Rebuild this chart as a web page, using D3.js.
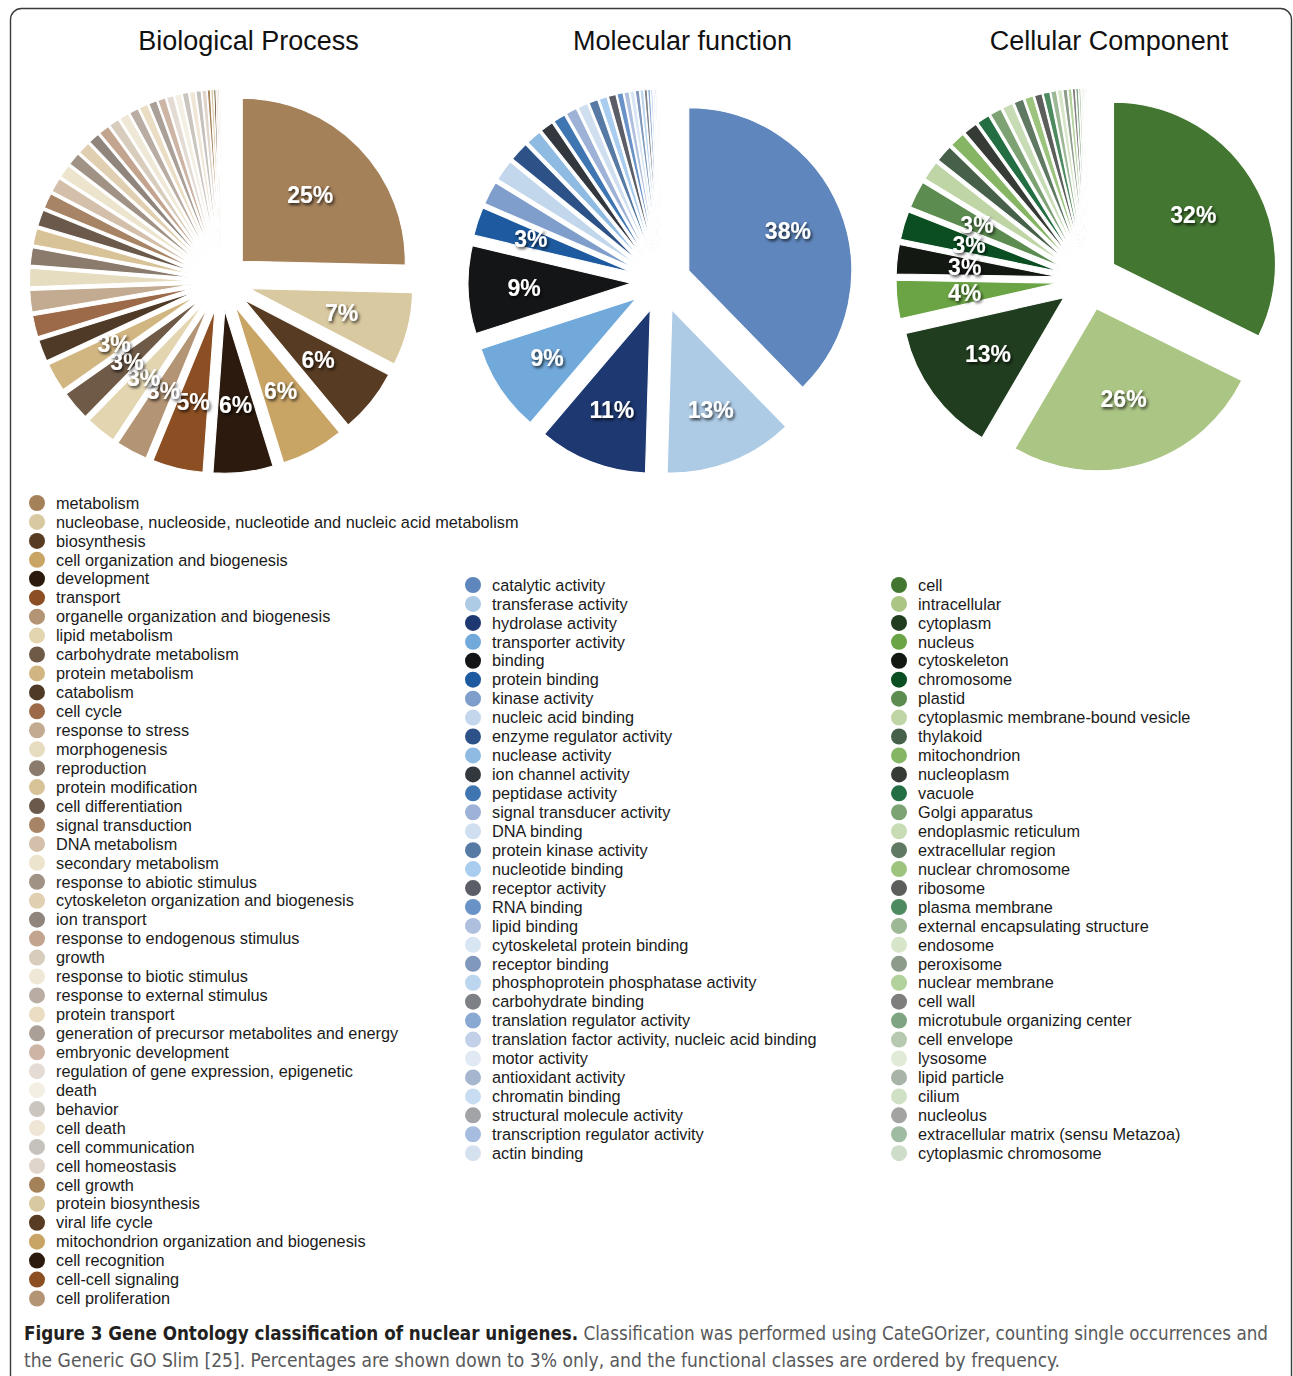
<!DOCTYPE html>
<html><head><meta charset="utf-8">
<script src="https://cdn.jsdelivr.net/npm/d3@7"></script>
<style>body{margin:0;background:#fff}svg{display:block}</style>
</head><body>
<script>
// ---------- DATA ----------
const chartTitles = ["Biological Process", "Molecular function", "Cellular Component"];

const bpCategories = ["metabolism","nucleobase, nucleoside, nucleotide and nucleic acid metabolism","biosynthesis","cell organization and biogenesis","development","transport","organelle organization and biogenesis","lipid metabolism","carbohydrate metabolism","protein metabolism","catabolism","cell cycle","response to stress","morphogenesis","reproduction","protein modification","cell differentiation","signal transduction","DNA metabolism","secondary metabolism","response to abiotic stimulus","cytoskeleton organization and biogenesis","ion transport","response to endogenous stimulus","growth","response to biotic stimulus","response to external stimulus","protein transport","generation of precursor metabolites and energy","embryonic development","regulation of gene expression, epigenetic","death","behavior","cell death","cell communication","cell homeostasis","cell growth","protein biosynthesis","viral life cycle","mitochondrion organization and biogenesis","cell recognition","cell-cell signaling","cell proliferation"];
const bpValues = [25.2,7.2,6.3,6.2,5.9,5.0,3.1,3.0,2.9,2.8,2.1,2.1,2.1,1.8,1.7,1.6,1.6,1.5,1.4,1.3,1.25,1.2,1.1,1.05,1.0,0.95,0.9,0.85,0.8,0.75,0.7,0.65,0.6,0.55,0.5,0.45,0.3,0.25,0.2,0.15,0.12,0.1,0.08];
const bpPalette = ["#a5815a","#d9c9a0","#573b22","#c8a465","#2b1a0d","#8b4f23","#b39474","#e2d5b0","#6f5a48","#d2b682","#4e3a27","#9c6a48","#c2ab90","#e6dcc0","#8a7b6d","#d8c297","#6b5a4b","#a88466","#d3bfaa","#ece4cc","#a09385","#e0cfb0","#8f857d","#c2a48f","#d8ccbc","#efe8d6","#b8aca3","#eaddc4","#aaa097","#cdb5a6","#e3dbd4","#f3efe3","#cbc5bf","#efe6d6","#c5c1bc","#e0d5cb"];

const mfCategories = ["catalytic activity","transferase activity","hydrolase activity","transporter activity","binding","protein binding","kinase activity","nucleic acid binding","enzyme regulator activity","nuclease activity","ion channel activity","peptidase activity","signal transducer activity","DNA binding","protein kinase activity","nucleotide binding","receptor activity","RNA binding","lipid binding","cytoskeletal protein binding","receptor binding","phosphoprotein phosphatase activity","carbohydrate binding","translation regulator activity","translation factor activity, nucleic acid binding","motor activity","antioxidant activity","chromatin binding","structural molecule activity","transcription regulator activity","actin binding"];
const mfValues = [37.8,12.8,10.8,8.8,8.7,2.8,2.3,2.1,1.9,1.5,1.3,1.2,1.1,1.0,0.9,0.8,0.75,0.6,0.5,0.45,0.4,0.35,0.3,0.25,0.2,0.17,0.14,0.12,0.1,0.08,0.06];
const mfPalette = ["#5f86bd","#aecbe6","#1e3871","#72a9db","#141517","#1d5aa0","#7f9ecb","#c3d7ec","#2c5288","#8fbbe3","#33383f","#3f76b2","#9db2d6","#cfdff0","#577aa5","#a9cdee","#5b5e66","#6992c7","#afc0de","#d8e6f3","#7f98bb","#bcd6ef","#7d8085","#89a9d3","#c3d1e8","#e1eaf4","#a7b6cf","#c9ddf2","#a2a3a7","#a6bde0","#d6e1ef"];

const ccCategories = ["cell","intracellular","cytoplasm","nucleus","cytoskeleton","chromosome","plastid","cytoplasmic membrane-bound vesicle","thylakoid","mitochondrion","nucleoplasm","vacuole","Golgi apparatus","endoplasmic reticulum","extracellular region","nuclear chromosome","ribosome","plasma membrane","external encapsulating structure","endosome","peroxisome","nuclear membrane","cell wall","microtubule organizing center","cell envelope","lysosome","lipid particle","cilium","nucleolus","extracellular matrix (sensu Metazoa)","cytoplasmic chromosome"];
const ccValues = [32.2,26.0,13.0,3.8,2.9,2.8,2.7,1.9,1.7,1.5,1.35,1.25,1.15,1.05,0.95,0.85,0.75,0.65,0.55,0.48,0.42,0.36,0.3,0.25,0.2,0.16,0.13,0.1,0.08,0.06,0.05];
const ccPalette = ["#437731","#abc584","#213d1f","#6aa444","#141812","#0a4e21","#5c8c50","#bfd5a5","#46604a","#86b564","#363b35","#236e43","#7da274","#c7dcb5","#5f7962","#9cc47e","#5b5e5a","#4d8a5f","#9db895","#d7e6c8","#8d9b8a","#b2d29b","#7e7f7d","#7ea481","#b7c9b0","#e0ead6","#a8b4a7","#cfe0c4","#a3a4a2","#9fbba1","#cedcca"];

const captionBold = "Figure 3 Gene Ontology classification of nuclear unigenes.";
const captionLine1 = " Classification was performed using CateGOrizer, counting single occurrences and";
const captionLine2 = "the Generic GO Slim [25]. Percentages are shown down to 3% only, and the functional classes are ordered by frequency.";

// ---------- DRAW ----------
const W = 1293, H = 1376;
const svg = d3.select("body").append("svg").attr("width", W).attr("height", H);

const defs = svg.append("defs");
const f = defs.append("filter").attr("id","shadow").attr("x","-30%").attr("y","-30%").attr("width","160%").attr("height","160%");
f.append("feDropShadow").attr("dx",1.5).attr("dy",2).attr("stdDeviation",1.6).attr("flood-color","#000").attr("flood-opacity",0.75);

svg.append("rect").attr("x",10.5).attr("y",8.5).attr("width",1281).attr("height",1430)
  .attr("rx",11).attr("fill","none").attr("stroke","#3a3a3a").attr("stroke-width",1.4);

const font = "'Liberation Sans', Arial, Helvetica, sans-serif";

const layout = [
  {title: chartTitles[0], tx: 248.5, cx: 221.5, cy: 281.5, R: 163, d: 29, labelR: 124, cats: bpCategories, vals: bpValues, pal: bpPalette, lx: 37, ly: 503},
  {title: chartTitles[1], tx: 682.5, cx: 661, cy: 282, R: 163, d: 30, labelR: 137, cats: mfCategories, vals: mfValues, pal: mfPalette, lx: 473, ly: 585},
  {title: chartTitles[2], tx: 1109, cx: 1088, cy: 280, R: 162, d: 30, labelR: 124, cats: ccCategories, vals: ccValues, pal: ccPalette, lx: 899, ly: 585}
];

const legendStep = 18.94;

layout.forEach(p => {
  svg.append("text").attr("x", p.tx).attr("y", 49.5).attr("text-anchor","middle")
    .attr("font-family", font).attr("font-size", 27).attr("fill","#111").text(p.title);

  const pie = d3.pie().sort(null).value(v => v);
  const arcs = pie(p.vals);
  const arc = d3.arc().innerRadius(0).outerRadius(p.R);
  const color = i => p.pal[i % p.pal.length];
  const g = svg.append("g").attr("transform", `translate(${p.cx},${p.cy})`);
  const mid = a => (a.startAngle + a.endAngle) / 2;

  g.selectAll("path.slice").data(arcs).join("path").attr("class","slice")
    .attr("transform", a => `translate(${p.d*Math.sin(mid(a))},${-p.d*Math.cos(mid(a))})`)
    .attr("d", arc)
    .attr("fill", (a, i) => color(i))
    .attr("stroke", "#fff").attr("stroke-width", 1.1).attr("stroke-linejoin","round");

  const total = d3.sum(p.vals);
  g.selectAll("text.pct").data(arcs.filter(a => Math.round(a.data / total * 100) >= 3)).join("text")
    .attr("class","pct")
    .attr("x", a => p.labelR * Math.sin(mid(a)))
    .attr("y", a => -p.labelR * Math.cos(mid(a)))
    .attr("text-anchor","middle").attr("dy","0.36em")
    .attr("font-family", font).attr("font-weight","bold").attr("font-size", 23)
    .attr("fill","#fff").attr("filter","url(#shadow)")
    .text(a => Math.round(a.data / total * 100) + "%");

  const lg = svg.append("g");
  const rows = lg.selectAll("g").data(p.cats).join("g")
    .attr("transform", (c, i) => `translate(${p.lx},${p.ly + i * legendStep})`);
  rows.append("circle").attr("r", 8).attr("fill", (c, i) => color(i));
  rows.append("text").attr("x", 19).attr("dy", "0.35em")
    .attr("font-family", font).attr("font-size", 16.3).attr("fill","#1a1a1a").text(c => c);
});

const capFont = "'Liberation Sans Narrow','DejaVu Sans Condensed','Arial Narrow',sans-serif";
const cap1 = svg.append("text").attr("x", 24).attr("y", 1340).attr("font-family", capFont)
  .attr("font-size", 19).attr("textLength", 1244).attr("lengthAdjust","spacingAndGlyphs");
cap1.append("tspan").attr("font-weight","bold").attr("fill","#231f20").text(captionBold);
cap1.append("tspan").attr("fill","#58595b").text(captionLine1);
svg.append("text").attr("x", 24).attr("y", 1367).attr("font-family", capFont)
  .attr("font-size", 19).attr("fill","#58595b").attr("textLength", 1036).attr("lengthAdjust","spacingAndGlyphs")
  .text(captionLine2);
</script>
</body></html>
